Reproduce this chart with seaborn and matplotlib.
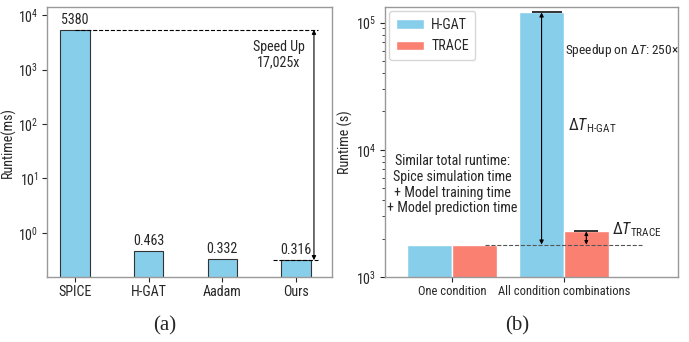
import matplotlib
matplotlib.use("Agg")
import matplotlib.pyplot as plt
from matplotlib import font_manager
import seaborn as sns
import pandas as pd
import numpy as np

# ---- data ----
methods = ["SPICE", "H-GAT", "Aadam", "Ours"]
runtime_ms = [5380, 0.463, 0.332, 0.316]
value_labels = ["5380", "0.463", "0.332", "0.316"]

conditions = ["One condition", "All condition combinations"]
models = ["H-GAT", "TRACE"]
hgat_s = [1800, 120000]
trace_s = [1800, 2280]

sns.set_style("ticks")

available = {f.name for f in font_manager.fontManager.ttflist}
narrow = None
for cand in ["Roboto Condensed", "Liberation Sans Narrow", "Open Sans Condensed", "Noto Sans Condensed"]:
    if cand in available:
        narrow = cand
        break
if narrow:
    FAM = narrow
    FS = 9.6
else:
    FAM = "Roboto"
    FS = 8.3
plt.rcParams["font.family"] = [FAM, "DejaVu Sans"]
plt.rcParams["mathtext.fontset"] = "custom"
plt.rcParams["mathtext.rm"] = FAM
plt.rcParams["mathtext.it"] = FAM + ":italic"
plt.rcParams["mathtext.bf"] = FAM + ":bold"

fig = plt.figure(figsize=(6.89, 3.42), dpi=100)
ax1 = fig.add_axes([47 / 689, 0.190, 285 / 689, 0.789])
ax2 = fig.add_axes([385 / 689, 0.190, 293 / 689, 0.789])

frame_col = "#999999"

# ---- left panel ----
df1 = pd.DataFrame({"method": methods, "runtime": runtime_ms})
ax1.set_yscale("log")
sns.barplot(data=df1, x="method", y="runtime", color="skyblue", edgecolor="#333333",
            linewidth=0.8, width=0.4, ax=ax1, saturation=1)
ax1.set_ylim(0.155, 14000)
ax1.set_xlim(-0.38, 3.49)
ax1.minorticks_off()
ax1.set_xlabel("")
ax1.set_ylabel("Runtime(ms)", fontsize=FS + 0.5, labelpad=2)
ax1.tick_params(labelsize=FS + 0.5, pad=2.5)
for i, (v, lab) in enumerate(zip(runtime_ms, value_labels)):
    ax1.text(i, v * 1.12, lab, ha="center", va="bottom", fontsize=FS + 0.5)
top, bot = runtime_ms[0], runtime_ms[-1]
ax1.plot([0, 3.3], [top, top], ls="--", color="black", lw=0.8)
ax1.plot([2.69, 3.3], [bot, bot], ls="--", color="black", lw=0.8)
ax1.annotate("", xy=(3.245, bot), xytext=(3.245, top),
             arrowprops=dict(arrowstyle="<|-|>", color="black", lw=0.8,
                             mutation_scale=6, shrinkA=0, shrinkB=0))
ax1.text(2.77, 1900, "Speed Up\n17,025x", ha="center", va="center", fontsize=FS + 0.5,
         linespacing=1.15)

# ---- right panel ----
df2 = pd.DataFrame({
    "condition": conditions * 2,
    "model": [models[0]] * 2 + [models[1]] * 2,
    "runtime": hgat_s + trace_s,
})
ax2.set_yscale("log")
sns.barplot(data=df2, x="condition", y="runtime", hue="model",
            palette=["skyblue", "salmon"], width=0.8, ax=ax2, saturation=1)
ax2.set_ylim(1000, 132000)
ax2.set_xlim(-0.6, 2.02)
ax2.set_xlabel("")
ax2.set_ylabel("Runtime (s)", fontsize=FS + 0.5, labelpad=2)
ax2.tick_params(labelsize=FS + 0.5, pad=2.5)
ax2.tick_params(axis="x", labelsize=FS - 0.6)
leg = ax2.legend(loc="upper left", fontsize=FS + 0.5, title=None, frameon=True,
                 handlelength=2.05, handleheight=0.7, handletextpad=0.5,
                 borderpad=0.45, labelspacing=0.55, borderaxespad=0.3)

base = hgat_s[0]
# caps on tops
ax2.errorbar([0.85], [hgat_s[1]], yerr=[[0], [0]], fmt="none", ecolor="#333333",
             capsize=11, elinewidth=0, capthick=1.2)
ax2.errorbar([1.2], [trace_s[1]], yerr=[[0], [0]], fmt="none", ecolor="#333333",
             capsize=8.3, elinewidth=0, capthick=1.2)
ax2.plot([0.29, 1.7], [base, base], ls="--", color="#555555", lw=0.8)
ax2.annotate("", xy=(0.8, base), xytext=(0.8, hgat_s[1]),
             arrowprops=dict(arrowstyle="<|-|>", color="black", lw=0.8,
                             mutation_scale=6, shrinkA=0, shrinkB=0))
ax2.annotate("", xy=(1.2, base), xytext=(1.2, trace_s[1]),
             arrowprops=dict(arrowstyle="<|-|>", color="black", lw=0.8,
                             mutation_scale=5, shrinkA=0, shrinkB=0))
ax2.text(1.01, 60000, "Speedup on $\\Delta T$: 250×", ha="left", va="center", fontsize=FS)
ax2.text(1.04, 15500, "$\\Delta T_{\\mathrm{H\\text{-}GAT}}$", ha="left", va="center", fontsize=FS + 2)
ax2.text(1.43, 2350, "$\\Delta T_{\\mathrm{TRACE}}$", ha="left", va="center", fontsize=FS + 2)
ax2.text(0.0, 5300, "Similar total runtime:\nSpice simulation time\n+ Model training time\n+ Model prediction time",
         ha="center", va="center", fontsize=FS + 0.5, linespacing=1.15)

for ax in (ax1, ax2):
    for s in ax.spines.values():
        s.set_visible(True)
        s.set_color(frame_col)
        s.set_linewidth(1.0)

fig.text(165 / 689, 1 - 326 / 342, "(a)", ha="center", va="center",
         fontsize=15, family="Liberation Serif")
fig.text(517 / 689, 1 - 326 / 342, "(b)", ha="center", va="center",
         fontsize=15, family="Liberation Serif")

fig.savefig("out.png", dpi=100)
